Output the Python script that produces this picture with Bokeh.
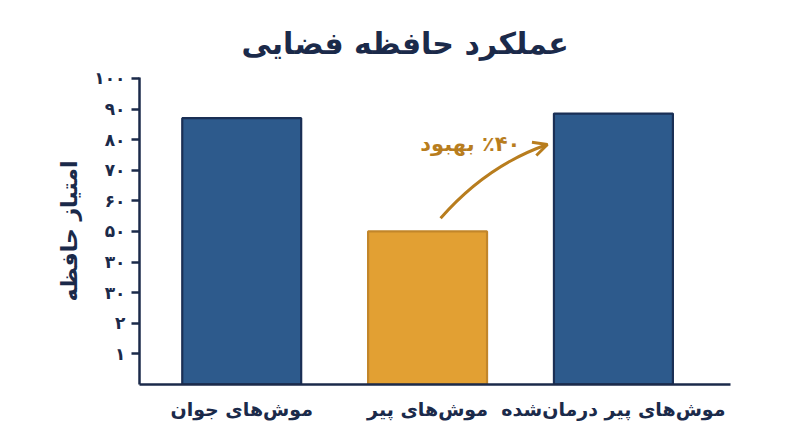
from bokeh.plotting import figure
from bokeh.models import Range1d, FixedTicker, Arrow, OpenHead, Label
from bokeh.embed import file_html
from bokeh.resources import INLINE

# ---- data ----
categories = ["موش‌های جوان", "موش‌های پیر", "موش‌های پیر درمان‌شده"]
scores = [87, 50, 88.5]
bar_kind = ["young", "old", "treated"]
y_ticks = [10, 20, 30, 40, 50, 60, 70, 80, 90, 100]
y_tick_labels = ["۱", "۲", "۳۰", "۳۰", "۵۰", "۶۰", "۷۰", "۸۰", "۹۰", "۱۰۰"]
title_text = "عملکرد حافظه فضایی"
y_label = "امتیاز حافظه"
note_text = "\u200f٪۴۰ بهبود"

# ---- styles ----
NAVY = "#1b2a4a"
BLUE_FILL = "#2d5a8c"
BLUE_LINE = "#1a2f55"
ORANGE_FILL = "#e2a033"
ORANGE_LINE = "#c2862a"
NOTE = "#b87d1e"
FONT = "DejaVu Sans"

xs = list(range(len(categories)))
fills = [ORANGE_FILL if k == "old" else BLUE_FILL for k in bar_kind]
lines = [ORANGE_LINE if k == "old" else BLUE_LINE for k in bar_kind]

p = figure(width=784, height=431, output_backend="svg", toolbar_location=None,
           x_range=Range1d(-0.55, 2.63), y_range=Range1d(0, 100.3),
           min_border_left=139, min_border_right=54, min_border_top=77,
           min_border_bottom=47, background_fill_color="white",
           border_fill_color="white", outline_line_color=None)

p.vbar(x=xs, top=scores, width=0.64, fill_color=fills, line_color=lines, line_width=2.2)

# title
p.title.text = title_text
p.title.align = "left"
p.title.text_font = FONT
p.title.text_font_size = "30px"
p.title.text_font_style = "bold"
p.title.text_color = NAVY
p.title.offset = 102
p.title.standoff = 34

# grid off
p.xgrid.grid_line_color = None
p.ygrid.grid_line_color = None

# y axis
ya = p.yaxis[0]
ya.ticker = FixedTicker(ticks=y_ticks)
ya.major_label_overrides = {t: l for t, l in zip(y_ticks, y_tick_labels)}
ya.minor_tick_line_color = None
ya.major_tick_in = 0
ya.major_tick_out = 8
ya.major_tick_line_width = 2.5
ya.major_tick_line_color = NAVY
ya.axis_line_width = 2.5
ya.axis_line_color = NAVY
ya.major_label_text_font = FONT
ya.major_label_text_font_size = "17px"
ya.major_label_text_font_style = "bold"
ya.major_label_text_color = NAVY
ya.major_label_standoff = 6
ya.axis_label = y_label
ya.axis_label_text_font = FONT
ya.axis_label_text_font_size = "22px"
ya.axis_label_text_font_style = "bold"
ya.axis_label_text_color = NAVY
ya.axis_label_standoff = 9

# x axis
xa = p.xaxis[0]
xa.ticker = FixedTicker(ticks=xs)
xa.major_label_overrides = {i: c for i, c in zip(xs, categories)}
xa.minor_tick_line_color = None
xa.major_tick_line_color = None
xa.major_tick_in = 0
xa.major_tick_out = 0
xa.axis_line_width = 2.5
xa.axis_line_color = NAVY
xa.major_label_text_font = FONT
xa.major_label_text_font_size = "19px"
xa.major_label_text_font_style = "bold"
xa.major_label_text_color = NAVY
xa.major_label_standoff = 13

# improvement arrow (curve + head)
curve_x0, curve_y0 = 1.07, 54.3
curve_cx, curve_cy = 1.32, 71.6
curve_x1, curve_y1 = 1.645, 78.4
p.quadratic(x0=[curve_x0], y0=[curve_y0], x1=[curve_x1], y1=[curve_y1],
            cx=[curve_cx], cy=[curve_cy], line_color=NOTE, line_width=3)
p.add_layout(Arrow(end=OpenHead(size=14, line_color=NOTE, line_width=3),
                   x_start=1.62, y_start=77.9, x_end=curve_x1, y_end=curve_y1,
                   line_color=NOTE, line_width=3))
p.add_layout(Label(x=1.23, y=78.7, text=note_text, text_align="center",
                   text_baseline="middle", text_font=FONT, text_font_size="21px",
                   text_font_style="bold", text_color=NOTE))

open("out.html", "w").write(file_html(p, INLINE))
